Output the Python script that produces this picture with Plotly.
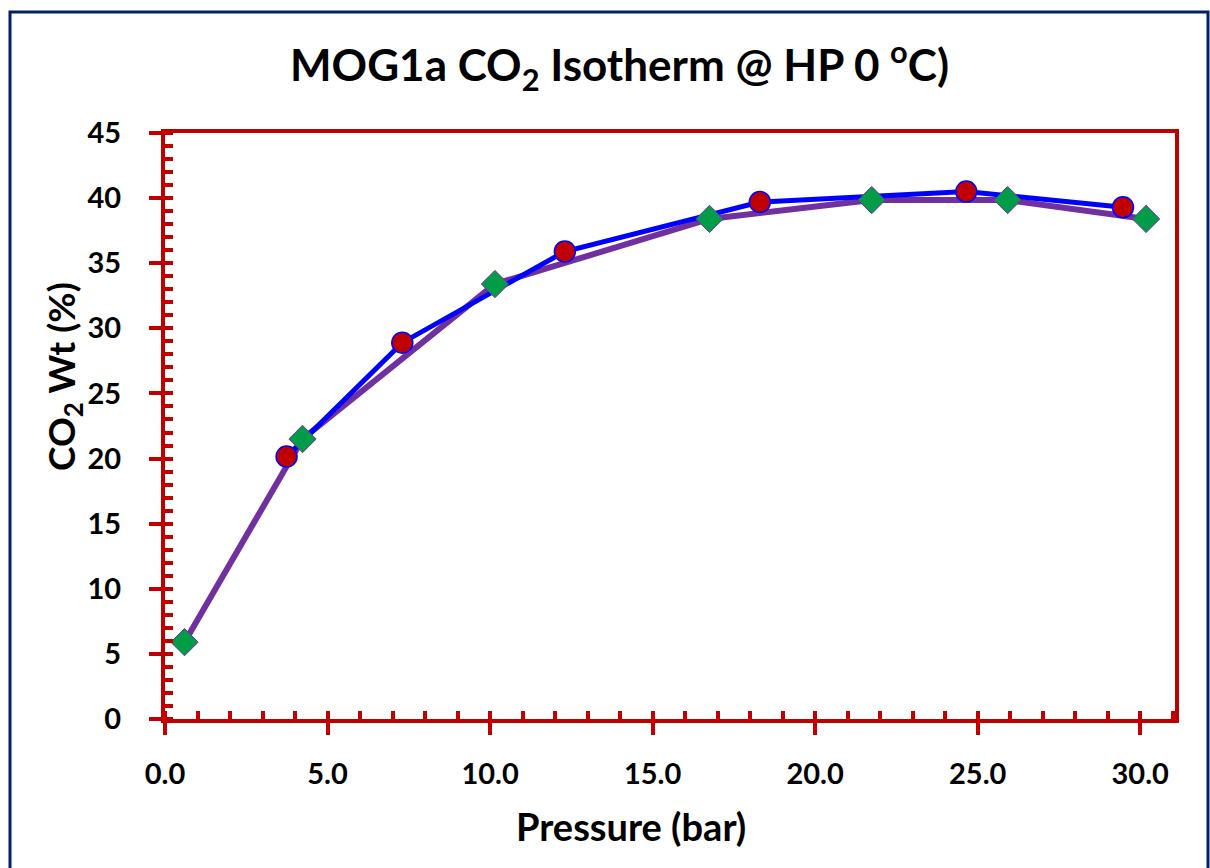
import plotly.graph_objects as go

# Series A (purple line, green diamonds)
pressure_a = [0.6, 4.23, 10.15, 16.75, 21.74, 25.92, 30.18]
co2_wt_a = [5.9, 21.5, 33.4, 38.4, 39.85, 39.85, 38.4]

# Series B (blue line, red circles)
pressure_b = [3.74, 7.3, 12.3, 18.3, 24.65, 29.47]
co2_wt_b = [20.15, 28.9, 35.9, 39.7, 40.5, 39.3]

x_tickvals = [0, 5, 10, 15, 20, 25, 30]
x_ticktext = ["0.0", "5.0", "10.0", "15.0", "20.0", "25.0", "30.0"]
y_tickvals = [0, 5, 10, 15, 20, 25, 30, 35, 40, 45]

FONT = "Lato"
RED = "#C00000"
NAVY = "#002060"

fig = go.Figure()
fig.add_trace(go.Scatter(x=pressure_a, y=co2_wt_a, mode="lines",
                         line=dict(color="#7030A0", width=6), showlegend=False))
fig.add_trace(go.Scatter(x=pressure_b, y=co2_wt_b, mode="lines",
                         line=dict(color="#0000FF", width=5), showlegend=False))
fig.add_trace(go.Scatter(x=pressure_a, y=co2_wt_a, mode="markers",
                         marker=dict(symbol="diamond", size=21, color="#009C48",
                                     line=dict(color="#7030A0", width=1)),
                         showlegend=False))
fig.add_trace(go.Scatter(x=pressure_b, y=co2_wt_b, mode="markers",
                         marker=dict(symbol="circle", size=21, color=RED,
                                     line=dict(color="#0000FF", width=1.5)),
                         showlegend=False))

axis_common = dict(showgrid=False, zeroline=False, showline=True, linecolor=RED,
                   linewidth=4, mirror=True, ticks="outside", ticklen=12,
                   tickwidth=4, tickcolor=RED,
                   tickfont=dict(family=FONT, size=29, color="black", weight="bold"))

fig.update_layout(
    width=1210, height=868,
    paper_bgcolor="white", plot_bgcolor="white",
    margin=dict(l=165, r=35, t=133, b=149),
    title=dict(text="MOG1a CO<sub>2</sub> Isotherm @ HP 0 <sup>o</sup>C)",
               x=0.512, xanchor="center", y=0.924, yanchor="middle",
               font=dict(family=FONT, size=44, color="black", weight="bold")),
    xaxis=dict(range=[0, 31.07], tickmode="array", tickvals=x_tickvals,
               ticktext=x_ticktext, ticklabelstandoff=14,
               minor=dict(dtick=1, tick0=0, ticks="inside", ticklen=8,
                          tickwidth=4, tickcolor=RED),
               **axis_common),
    yaxis=dict(range=[0, 45], tickmode="array", tickvals=y_tickvals,
               ticklabelstandoff=22,
               minor=dict(dtick=1, tick0=0, ticks="inside", ticklen=8,
                          tickwidth=4, tickcolor=RED),
               **axis_common),
    xaxis2=dict(range=[0, 31.07], overlaying="x", side="bottom", showgrid=False,
                zeroline=False, showticklabels=False, tickmode="array",
                tickvals=x_tickvals, ticks="inside", ticklen=8, tickwidth=4,
                tickcolor=RED, showline=False),
    yaxis2=dict(range=[0, 45], overlaying="y", side="left", showgrid=False,
                zeroline=False, showticklabels=False, tickmode="array",
                tickvals=y_tickvals, ticks="inside", ticklen=8, tickwidth=4,
                tickcolor=RED, showline=False),
    annotations=[
        dict(text="Pressure (bar)", xref="paper", yref="paper",
             x=(631 - 165) / 1010, y=(719 - 826) / 586,
             xanchor="center", yanchor="middle", showarrow=False,
             font=dict(family=FONT, size=38, color="black", weight="bold")),
        dict(text="CO<sub>2</sub> Wt (%)", xref="paper", yref="paper",
             x=(63 - 165) / 1010, y=(719 - 377) / 586, textangle=-90,
             xanchor="center", yanchor="middle", showarrow=False,
             font=dict(family=FONT, size=37, color="black", weight="bold")),
    ],
    shapes=[dict(type="rect", xref="paper", yref="paper",
                 x0=(10 - 165) / 1010, x1=(1208 - 165) / 1010,
                 y0=-0.4, y1=(719 - 12) / 586,
                 line=dict(color=NAVY, width=3), fillcolor="rgba(0,0,0,0)",
                 layer="below")],
)
# invisible trace so the overlay axes carrying the inner major ticks are drawn
fig.add_trace(go.Scatter(x=[None], y=[None], xaxis="x2", yaxis="y2",
                         showlegend=False, hoverinfo="skip"))

fig.write_html("out.html")
